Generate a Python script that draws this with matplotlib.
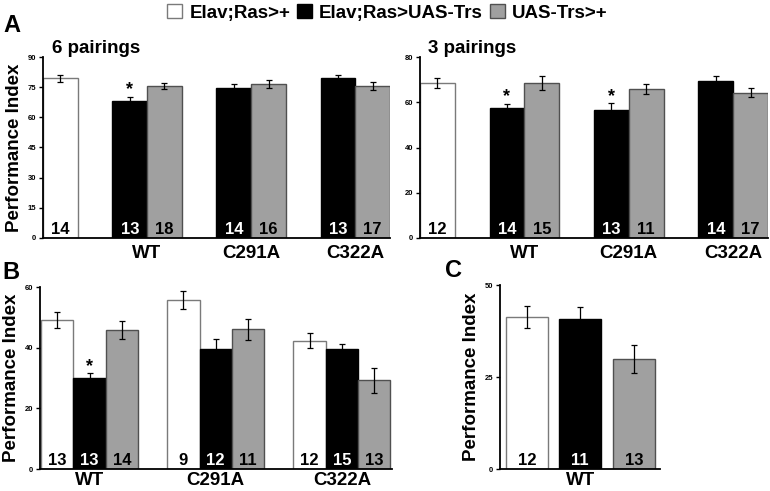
import matplotlib
matplotlib.use('Agg')
import matplotlib.pyplot as plt
from matplotlib.patches import Patch

plt.rcParams['font.family'] = ['Liberation Sans', 'DejaVu Sans']
plt.rcParams['font.weight'] = 'bold'

genotypes = ['Elav;Ras>+', 'Elav;Ras>UAS-Trs', 'UAS-Trs>+']
fills = ['white', 'black', '#a0a0a0']
edges = ['#7a7a7a', 'black', '#505050']
text_cols = ['black', 'white', 'black']

# panel A: control, then (Ras>Trs, Trs>+) for WT, C291A, C322A
a_groups = ['WT', 'C291A', 'C322A']
a6_mean = [79.4, 68.1, 75.7, 74.8, 76.6, 79.4, 75.6]
a6_err = [1.8, 2.0, 1.4, 2.0, 2.2, 1.6, 2.2]
a6_n = [14, 13, 18, 14, 16, 13, 17]
a3_mean = [68.6, 57.3, 68.6, 56.4, 65.8, 69.2, 64.1]
a3_err = [2.2, 1.9, 3.1, 3.1, 2.2, 2.6, 2.0]
a3_n = [12, 14, 15, 13, 11, 14, 17]
a_kind = [0, 1, 2, 1, 2, 1, 2]
a6_star = [1]
a3_star = [1, 3]

# panel B: three genotypes per group
b_groups = ['WT', 'C291A', 'C322A']
b_mean = [49.0, 30.0, 45.8, 55.6, 39.4, 46.0, 42.3, 39.6, 29.3]
b_err = [2.6, 1.5, 2.9, 3.0, 3.3, 3.4, 2.4, 1.5, 4.1]
b_n = [13, 13, 14, 9, 12, 11, 12, 15, 13]
b_star = [1]

# panel C
c_mean = [41.4, 40.8, 29.9]
c_err = [3.0, 3.3, 3.7]
c_n = [12, 11, 13]

fig = plt.figure(figsize=(7.7, 4.91), dpi=100)
W, H = 770, 491


def px_axes(left, top, right, bottom):
    return fig.add_axes([left / W, 1 - bottom / H, (right - left) / W, (bottom - top) / H])


def style(ax, ymax, step, xpad):
    for s in ['top', 'right']:
        ax.spines[s].set_visible(False)
    for s in ['left', 'bottom']:
        ax.spines[s].set_linewidth(1.3)
    ax.set_ylim(0, ymax)
    ax.set_yticks(range(0, ymax + 1, step))
    ax.tick_params(axis='y', length=3, width=1, labelsize=5.5, pad=2)
    ax.tick_params(axis='x', length=0, labelsize=13.5, pad=xpad)
    for lab in ax.get_yticklabels():
        lab.set_fontweight('bold')
    ax.set_ylabel('Performance Index', fontsize=13.5, fontweight='bold', labelpad=3)


def draw_bars(ax, xs, means, errs, ns, kinds, width, stars, align='center'):
    for x, m, e, n, k in zip(xs, means, errs, ns, kinds):
        ax.bar(x, m, width, align=align, color=fills[k], edgecolor=edges[k], linewidth=1)
        cx = x + width / 2 if align == 'edge' else x
        ax.errorbar(cx, m, yerr=e, fmt='none', ecolor='black', elinewidth=0.9,
                    capsize=2.5, capthick=0.9)
        ax.annotate(str(n), (cx, 0), xytext=(0, 1), textcoords='offset points',
                    ha='center', va='bottom', fontsize=12, fontweight='bold',
                    color=text_cols[k])
    for i in stars:
        x = xs[i] + width / 2 if align == 'edge' else xs[i]
        ax.annotate('*', (x, means[i] + errs[i]), xytext=(0, -1), textcoords='offset points',
                    ha='center', va='bottom', fontsize=13, fontweight='bold')


a_pos = [0, 2, 3, 5, 6, 8, 9]

# A left
ax1 = px_axes(43, 57, 390, 238)
draw_bars(ax1, a_pos, a6_mean, a6_err, a6_n, a_kind, 1, a6_star, align='edge')
ax1.set_xlim(0, 10)
style(ax1, 90, 15, 5)
ax1.set_xticks([3, 6, 9], a_groups, fontweight='bold')
ax1.set_title('6 pairings', loc='left', fontsize=13.5, fontweight='bold', x=0.025, y=1.0, pad=3)

# A right
ax2 = px_axes(420, 57, 768, 238)
draw_bars(ax2, a_pos, a3_mean, a3_err, a3_n, a_kind, 1, a3_star, align='edge')
ax2.set_xlim(0, 10)
style(ax2, 80, 20, 5)
ax2.set_ylabel('')
ax2.set_xticks([3, 6, 9], a_groups, fontweight='bold')
ax2.set_title('3 pairings', loc='left', fontsize=13.5, fontweight='bold', x=0.023, y=1.0, pad=3)

# B
ax3 = px_axes(40, 287, 392, 469)
b_pos = [0, 1, 2, 3.9, 4.9, 5.9, 7.8, 8.8, 9.8]
draw_bars(ax3, b_pos, b_mean, b_err, b_n, [0, 1, 2] * 3, 1, b_star, align='edge')
ax3.set_xlim(-0.03, 10.85)
style(ax3, 60, 20, 2)
ax3.set_xticks([1.5, 5.4, 9.3], b_groups, fontweight='bold')

# C
ax4 = px_axes(500, 285, 660, 469)
draw_bars(ax4, [0, 1, 2], c_mean, c_err, c_n, [0, 1, 2], 0.78, [])
ax4.set_xlim(-0.5, 2.49)
style(ax4, 50, 25, 2)
ax4.set_xticks([1], ['WT'], fontweight='bold')

# panel letters
fig.text(3 / W, 1 - 32 / H, 'A', fontsize=17, fontweight='bold')
fig.text(2 / W, 1 - 279 / H, 'B', fontsize=17, fontweight='bold')
fig.text(445 / W, 1 - 277 / H, 'C', fontsize=17, fontweight='bold')

handles = [Patch(facecolor=fills[i], edgecolor=edges[i], label=genotypes[i]) for i in range(3)]
fig.legend(handles=handles, loc='center', bbox_to_anchor=(0.503, 0.974), ncol=3,
           frameon=False, prop={'size': 13.5, 'weight': 'bold'}, handlelength=0.8,
           handleheight=0.8, handletextpad=0.4, columnspacing=0.35, borderpad=0)

fig.savefig('out.png', dpi=100)
